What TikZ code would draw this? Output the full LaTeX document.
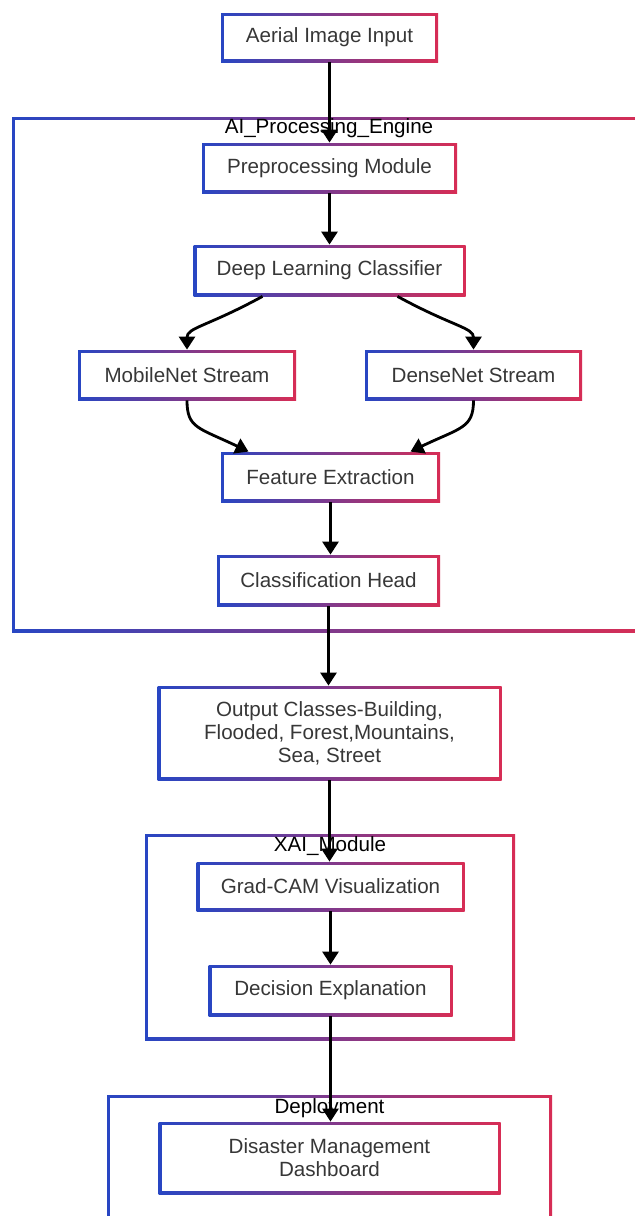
\documentclass[tikz,border=0pt]{standalone}
\usepackage{fontspec}
\setmainfont{Liberation Sans}
\usetikzlibrary{arrows.meta}
\definecolor{bleu}{RGB}{40,70,195}
\definecolor{rouge}{RGB}{215,45,85}
\definecolor{texte}{RGB}{55,55,55}

\begin{document}
\begin{tikzpicture}[x=0.5pt,y=-0.5pt]
\tikzstyle{boite} = [left color=bleu, right color=rouge, inner sep=0pt, align=center,
  text=texte, font=\fontsize{10.3}{11.5}\selectfont,
  path picture={\fill[white] ([shift={(1.5pt,1.5pt)}]path picture bounding box.south west)
    rectangle ([shift={(-1.5pt,-1.5pt)}]path picture bounding box.north east);}] %bord en degrade
\tikzstyle{titre} = [font=\fontsize{10.3}{12}\selectfont, text=black]
\tikzstyle{fleche} = [line width=1.4pt, -{Triangle[width=8pt,length=6.5pt]}]

\useasboundingbox (0,0) rectangle (634,1216);

%groupes
\node[boite, minimum width=317pt, minimum height=257.5pt] (AI) at (329,374.5) {};
\node[boite, minimum width=185pt, minimum height=103pt] (XAI) at (330,937) {};
\node[boite, minimum width=222.5pt, minimum height=67.5pt] (Dep) at (329.5,1162.5) {};
\node[titre] (tAI) at (329,128) {AI\_Processing\_Engine};
\node[titre] (tXAI) at (330,846) {XAI\_Module};
\node[titre] (tDep) at (329.5,1108) {Deployment};

%boites
\node[boite, minimum width=108.5pt, minimum height=24.5pt] (In) at (329.5,37.5) {Aerial Image Input};
\node[boite, minimum width=127.5pt, minimum height=25pt] (Pre) at (329.5,168) {Preprocessing Module};
\node[boite, minimum width=136pt, minimum height=25.5pt] (DL) at (329.5,270.5) {Deep Learning Classifier};
\node[boite, minimum width=109pt, minimum height=25pt] (Mob) at (187,375) {MobileNet Stream};
\node[boite, minimum width=108.5pt, minimum height=25pt] (Den) at (473.5,375) {DenseNet Stream};
\node[boite, minimum width=109.5pt, minimum height=25pt] (FE) at (330.5,477) {Feature Extraction};
\node[boite, minimum width=111.5pt, minimum height=25.5pt] (CH) at (328.5,580.5) {Classification Head};
\node[boite, minimum width=172pt, minimum height=47pt] (Out) at (329.5,733)
  {Output Classes-Building,\\Flooded, Forest,Mountains,\\Sea, Street};
\node[boite, minimum width=134pt, minimum height=24.5pt] (Grad) at (330.5,886.5) {Grad-CAM Visualization};
\node[boite, minimum width=122pt, minimum height=25.5pt] (Dec) at (330.5,990.5) {Decision Explanation};
\node[boite, minimum width=171pt, minimum height=36pt] (Dash) at (329.5,1158)
  {Disaster Management\\Dashboard};

%fleches
\draw[fleche] (In.south) -- (In.south |- Pre.north);
\draw[fleche] (Pre.south) -- (Pre.south |- DL.north);
\draw[fleche] ([xshift=-33.5pt]DL.south) .. controls +(-55,30) and +(0,-22) .. (Mob.north);
\draw[fleche] ([xshift=34pt]DL.south) .. controls +(55,30) and +(0,-22) .. (Den.north);
\draw[fleche] (Mob.south) .. controls +(0,28) and +(-50,-24) .. ([xshift=-41pt]FE.north);
\draw[fleche] (Den.south) .. controls +(0,28) and +(50,-24) .. ([xshift=40pt]FE.north);
\draw[fleche] (FE.south) -- (FE.south |- CH.north);
\draw[fleche] (CH.south) -- (CH.south |- Out.north);
\draw[fleche] (Out.south) -- (Out.south |- Grad.north);
\draw[fleche] (Grad.south) -- (Grad.south |- Dec.north);
\draw[fleche] (Dec.south) -- (Dec.south |- Dash.north);
\end{tikzpicture}
\end{document}
